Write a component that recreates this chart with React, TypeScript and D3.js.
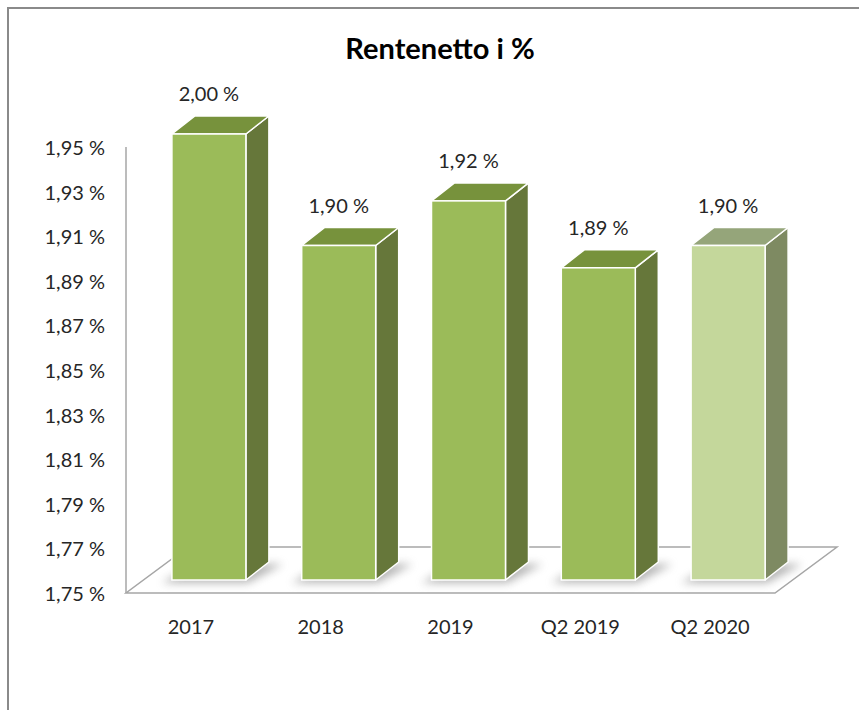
import React, { useEffect, useRef } from 'react';
import * as d3 from 'd3';

// chart data
const categories = ['2017', '2018', '2019', 'Q2 2019', 'Q2 2020'];
const values = [2.0, 1.9, 1.92, 1.89, 1.9];
const yTicks = [1.75, 1.77, 1.79, 1.81, 1.83, 1.85, 1.87, 1.89, 1.91, 1.93, 1.95];
const title = 'Rentenetto i %';

const FONT = 'Lato, Carlito, "Open Sans", sans-serif';

const fmt = (v: number) => d3.format('.2f')(v).replace('.', ',') + ' %';

const App = () => {
  const ref = useRef<SVGSVGElement | null>(null);

  useEffect(() => {
    const W = 859;
    const H = 710;
    const svg = d3.select(ref.current);
    svg.selectAll('*').remove();

    // front plane of the 3D plot
    const left = 126;
    const right = 775;
    const bottom = 593;
    const top = 147;
    // floor depth
    const fdx = 62;
    const fdy = 46;
    // bar placement inside the depth
    const odx = 18;
    const ody = 13;
    const bdx = 23;
    const bdy = 18;

    const x = d3.scaleBand<string>().domain(categories).range([left, right]);
    const y = d3.scaleLinear().domain([1.75, 1.95]).range([bottom, top]).clamp(true);
    const bw = x.bandwidth() * 0.57;

    const defs = svg.append('defs');
    defs
      .append('filter')
      .attr('id', 'shadow')
      .attr('x', '-50%')
      .attr('y', '-50%')
      .attr('width', '200%')
      .attr('height', '200%')
      .append('feGaussianBlur')
      .attr('stdDeviation', 4);

    // frame
    svg
      .append('path')
      .attr('d', `M8,${H} L8,8 L${W},8`)
      .attr('fill', 'none')
      .attr('stroke', '#8a8a8a')
      .attr('stroke-width', 2);

    // title
    svg
      .append('text')
      .attr('x', 440)
      .attr('y', 59)
      .attr('text-anchor', 'middle')
      .attr('font-family', FONT)
      .attr('font-weight', 'bold')
      .attr('font-size', 29)
      .attr('fill', '#000')
      .text(title);

    // floor
    const floor = [
      [left, bottom],
      [right, bottom],
      [right + fdx, bottom - fdy],
      [left + fdx, bottom - fdy],
    ];
    svg
      .append('polygon')
      .attr('points', floor.map((p) => p.join(',')).join(' '))
      .attr('fill', '#fff')
      .attr('stroke', '#a6a6a6')
      .attr('stroke-width', 1.5);

    // y axis line
    svg
      .append('line')
      .attr('x1', left)
      .attr('x2', left)
      .attr('y1', top)
      .attr('y2', bottom)
      .attr('stroke', '#a6a6a6')
      .attr('stroke-width', 1.5);

    // y tick labels
    svg
      .append('g')
      .selectAll('text')
      .data(yTicks)
      .join('text')
      .attr('x', 105)
      .attr('y', (d) => y(d) + 1)
      .attr('dy', '0.35em')
      .attr('text-anchor', 'end')
      .attr('font-family', FONT)
      .attr('font-size', 20)
      .attr('fill', '#262626')
      .text((d) => fmt(d));

    // category labels
    svg
      .append('g')
      .selectAll('text')
      .data(categories)
      .join('text')
      .attr('x', (d) => (x(d) as number) + x.bandwidth() / 2)
      .attr('y', 627)
      .attr('dy', '0.35em')
      .attr('text-anchor', 'middle')
      .attr('font-family', FONT)
      .attr('font-size', 20)
      .attr('fill', '#262626')
      .text((d) => d);

    const normal = { front: '#9bbb59', side: '#66773a', top: '#77923c' };
    const light = { front: '#c4d79b', side: '#7e8a62', top: '#95a57a' };

    const bars = categories.map((c, i) => {
      const x0 = (x(c) as number) + (x.bandwidth() - bw) / 2 + odx;
      const x1 = x0 + bw;
      const yTop = y(values[i]) - ody;
      const yBot = y(1.75) - ody;
      return { c, v: values[i], x0, x1, yTop, yBot, col: i === categories.length - 1 ? light : normal };
    });

    // shadows on the floor
    svg
      .append('g')
      .selectAll('polygon')
      .data(bars)
      .join('polygon')
      .attr('points', (b) =>
        [
          [b.x0 - 10, b.yBot + 3],
          [b.x1 + 2, b.yBot + 3],
          [b.x1 + bdx + 14, b.yBot - bdy + 2],
          [b.x0 + bdx, b.yBot - bdy + 2],
        ]
          .map((p) => p.join(','))
          .join(' ')
      )
      .attr('fill', '#7a7a7a')
      .attr('opacity', 0.55)
      .attr('filter', 'url(#shadow)');

    const g = svg.append('g').selectAll('g').data(bars).join('g');

    g.append('polygon')
      .attr('points', (b) =>
        [
          [b.x1, b.yTop],
          [b.x1 + bdx, b.yTop - bdy],
          [b.x1 + bdx, b.yBot - bdy],
          [b.x1, b.yBot],
        ]
          .map((p) => p.join(','))
          .join(' ')
      )
      .attr('fill', (b) => b.col.side)
      .attr('stroke', '#fff')
      .attr('stroke-width', 1.5)
      .attr('stroke-linejoin', 'round');

    g.append('polygon')
      .attr('points', (b) =>
        [
          [b.x0, b.yTop],
          [b.x0 + bdx, b.yTop - bdy],
          [b.x1 + bdx, b.yTop - bdy],
          [b.x1, b.yTop],
        ]
          .map((p) => p.join(','))
          .join(' ')
      )
      .attr('fill', (b) => b.col.top)
      .attr('stroke', '#fff')
      .attr('stroke-width', 1.5)
      .attr('stroke-linejoin', 'round');

    g.append('rect')
      .attr('x', (b) => b.x0)
      .attr('y', (b) => b.yTop)
      .attr('width', bw)
      .attr('height', (b) => b.yBot - b.yTop)
      .attr('fill', (b) => b.col.front)
      .attr('stroke', '#fff')
      .attr('stroke-width', 1.5);

    // value labels
    svg
      .append('g')
      .selectAll('text')
      .data(bars)
      .join('text')
      .attr('x', (b) => (b.x0 + b.x1) / 2)
      .attr('y', (b) => b.yTop - 40)
      .attr('dy', '0.35em')
      .attr('text-anchor', 'middle')
      .attr('font-family', FONT)
      .attr('font-size', 20)
      .attr('fill', '#262626')
      .text((b) => fmt(b.v));
  }, []);

  return (
    <svg
      ref={ref}
      width={859}
      height={710}
      style={{ position: 'absolute', left: 0, top: 0, background: '#fff' }}
    />
  );
};

export default App;
